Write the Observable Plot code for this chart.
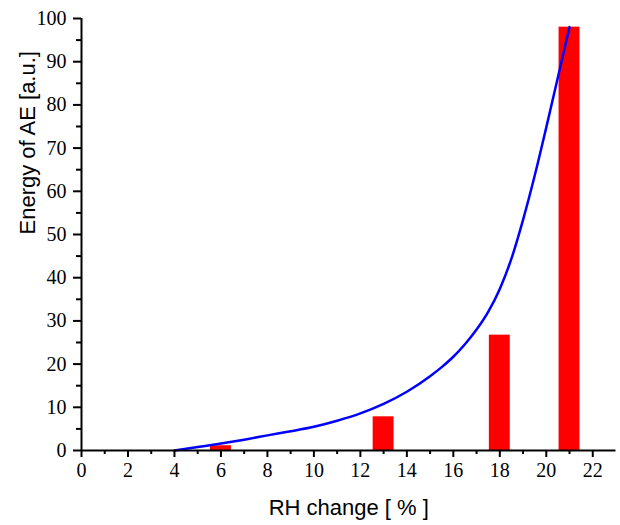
<!DOCTYPE html>
<html>
<head>
<meta charset="utf-8">
<script src="https://cdn.jsdelivr.net/npm/d3@7"></script>
<script src="https://cdn.jsdelivr.net/npm/@observablehq/plot@0.6"></script>
<style>
  body { margin: 0; background: #fff; }
  .serif-ticks text { font-family: "Liberation Serif", "Times New Roman", serif; }
</style>
</head>
<body>
<div id="chart"></div>
<script>
// Measured AE energy per RH step (bars)
const barRH = [6, 13, 18, 21];
const barEnergy = [1.1, 7.8, 26.7, 98.0];

// Fitted trend (blue curve)
const curveRH = [4, 5, 6, 7, 8, 9, 10, 11, 12, 13, 14, 15, 15.5, 16, 16.5, 17, 17.5, 18, 18.5, 19, 19.5, 20, 20.5, 21];
const curveEnergy = [0, 0.8, 1.6, 2.5, 3.5, 4.45, 5.5, 6.9, 8.6, 10.8, 13.6, 17.2, 19.3, 21.7, 24.6, 28.0, 32.1, 37.4, 44.4, 53.4, 63.6, 74.8, 86.4, 98];

// Tick values
const xMajorTicks = [0, 2, 4, 6, 8, 10, 12, 14, 16, 18, 20, 22];
const xMinorTicks = [1, 3, 5, 7, 9, 11, 13, 15, 17, 19, 21];
const yMajorTicks = [0, 10, 20, 30, 40, 50, 60, 70, 80, 90, 100];
const yMinorTicks = [5, 15, 25, 35, 45, 55, 65, 75, 85, 95];

const xTitle = "RH change [ % ]";
const yTitle = "Energy of AE [a.u.]";

const bars = barRH.map((x, i) => ({x, e: barEnergy[i]}));
const curve = curveRH.map((x, i) => ({x, e: curveEnergy[i]}));
const barHalfWidth = 0.45;

const tickFont = "Liberation Serif, Times New Roman, serif";
const titleFont = "Liberation Sans, Arial, sans-serif";

const chart = Plot.plot({
  width: 620,
  height: 525,
  marginLeft: 81,
  marginTop: 18,
  marginBottom: 75,
  marginRight: 4.5,
  x: {domain: [0, 23], axis: null},
  y: {domain: [0, 100], axis: null},
  style: {background: "#fff", color: "#000"},
  marks: [
    Plot.rectY(bars, {
      x1: d => d.x - barHalfWidth,
      x2: d => d.x + barHalfWidth,
      y: "e",
      fill: "#ff0000"
    }),
    Plot.line(curve, {
      x: "x", y: "e",
      stroke: "#0000ff",
      strokeWidth: 2.5,
      curve: "monotone-x"
    }),
    // axis lines
    Plot.ruleY([0], {strokeWidth: 2}),
    Plot.ruleX([0], {strokeWidth: 2}),
    // x axis ticks
    Plot.axisX(xMajorTicks, {
      anchor: "bottom", tickSize: 7, tickPadding: 5, strokeWidth: 2,
      fontSize: 20, fontFamily: tickFont, label: null
    }),
    Plot.axisX(xMinorTicks, {
      anchor: "bottom", tickSize: 4, strokeWidth: 2, text: null, label: null
    }),
    // y axis ticks
    Plot.axisY(yMajorTicks, {
      anchor: "left", tickSize: 8, tickPadding: 7, strokeWidth: 2,
      fontSize: 20, fontFamily: tickFont, label: null
    }),
    Plot.axisY(yMinorTicks, {
      anchor: "left", tickSize: 5, strokeWidth: 2, text: null, label: null
    }),
    // axis titles
    Plot.text([xTitle], {
      frameAnchor: "bottom", dy: 57, lineAnchor: "middle",
      fontSize: 22, fontFamily: titleFont, fill: "#000"
    }),
    Plot.text([yTitle], {
      frameAnchor: "left", dx: -54, rotate: -90, lineAnchor: "middle",
      fontSize: 22, fontFamily: titleFont, fill: "#000"
    })
  ]
});

// tick labels are set in a serif face
d3.select(chart)
  .selectAll('g[aria-label="x-axis tick label"], g[aria-label="y-axis tick label"]')
  .classed("serif-ticks", true);

document.getElementById("chart").appendChild(chart);
</script>
</body>
</html>
